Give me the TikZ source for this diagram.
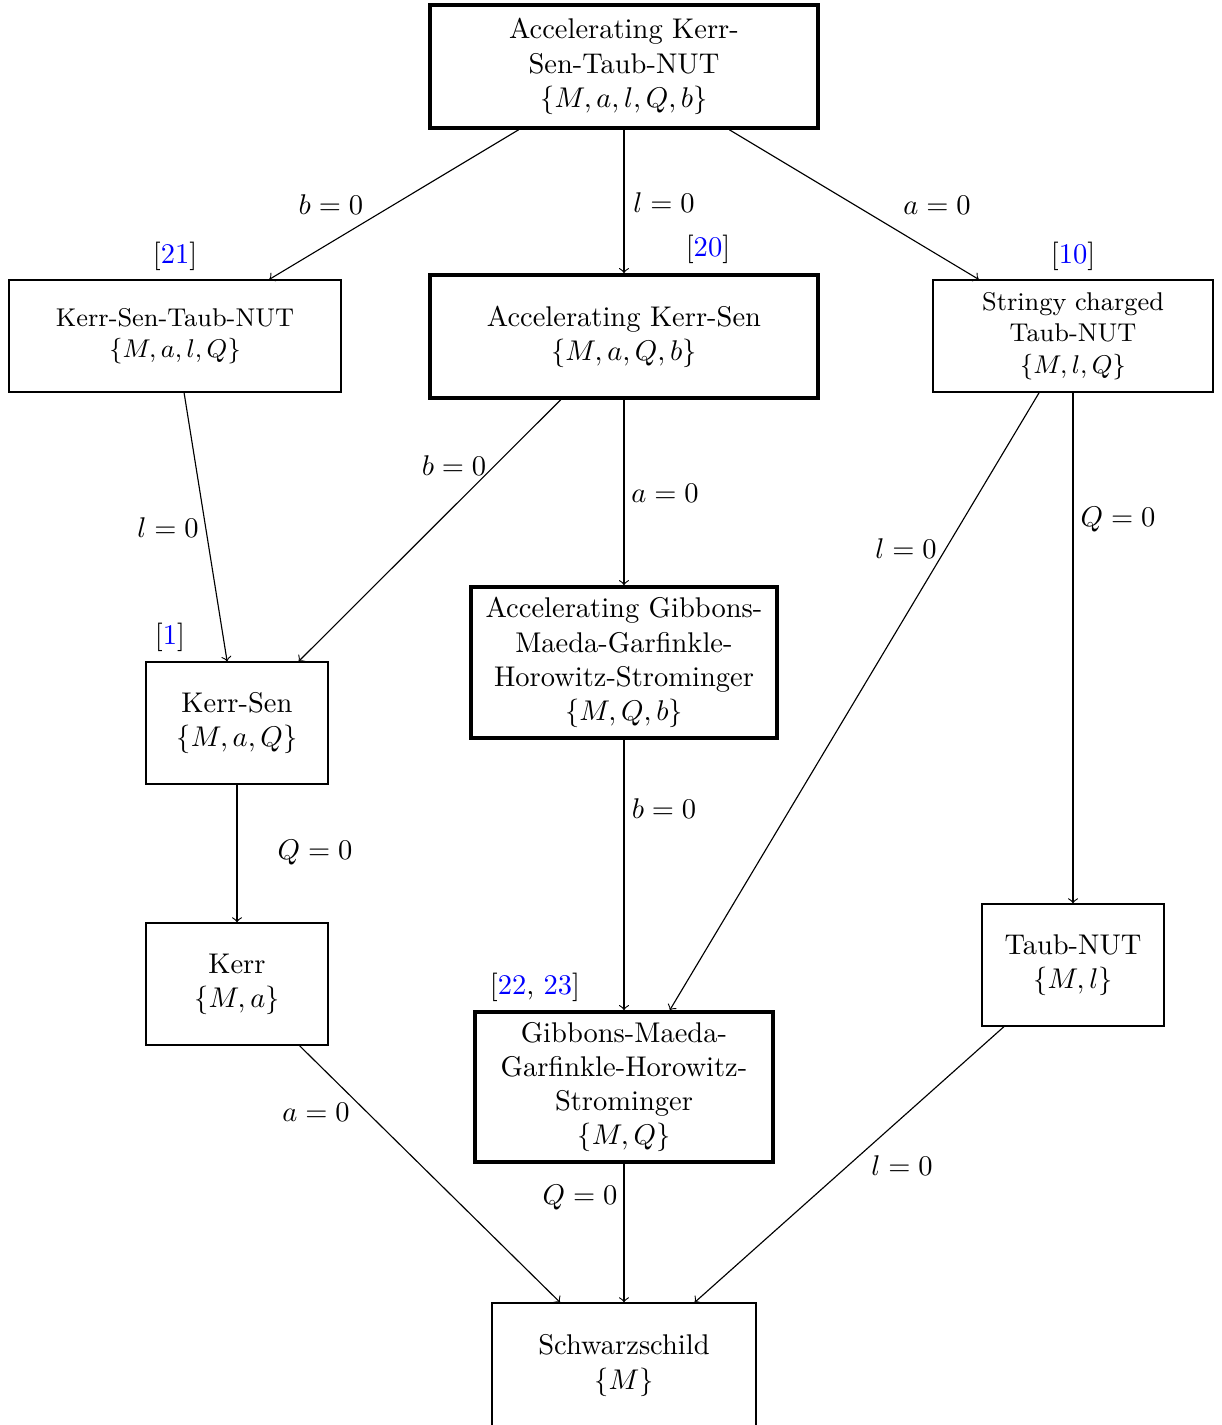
\documentclass[tikz,border=0pt]{standalone}
\usepackage{amssymb,amsmath}
\usepackage{xcolor}
\usepackage{tikz}
\usetikzlibrary{arrows}
\usetikzlibrary{positioning}
\tikzstyle{family}=[draw,rectangle,align=center,inner sep=2pt]
\tikzstyle{main}=[family,very thick]
\tikzstyle{link} = [draw,->]
\newcommand{\refnum}[1]{[\textcolor{blue}{#1}]}

\begin{document}
\begin{tikzpicture}
		[scale=1,auto=left]
		\useasboundingbox (0,0) rectangle (15.056,-17.571);
		% spacetimes
		\node[main][minimum width=4.784cm,minimum height=1.517cm] (a1) at (7.694,-0.820) {Accelerating Kerr-\\Sen-Taub-NUT\\$\{M,a,l,Q,b\}$};
		\node[family][minimum width=4.094cm,minimum height=1.381cm,font=\small] (a2) at (2.158,-4.143) {Kerr-Sen-Taub-NUT\\$\{M,a,l,Q\}$};
		\node[main][minimum width=4.784cm,minimum height=1.517cm] (a3) at (7.694,-4.149) {Accelerating Kerr-Sen\\$\{M,a,Q,b\}$};
		\node[family][minimum width=3.453cm,minimum height=1.381cm,font=\small] (a4) at (13.231,-4.143) {Stringy charged\\Taub-NUT\\$\{M,l,Q\}$};
		\node[family][minimum width=2.244cm,minimum height=1.504cm] (a5) at (2.922,-8.915) {Kerr-Sen\\$\{M,a,Q\}$};
		\node[main][minimum width=3.773cm,minimum height=1.862cm] (a6) at (7.694,-8.169) {Accelerating Gibbons-\\Maeda-Garfinkle-\\Horowitz-Strominger\\$\{M,Q,b\}$};
		\node[family][minimum width=2.244cm,minimum height=1.504cm] (a7) at (2.922,-12.133) {Kerr\\$\{M,a\}$};
		\node[family][minimum width=2.244cm,minimum height=1.504cm] (a8) at (13.231,-11.899) {Taub-NUT\\$\{M,l\}$};
		\node[main][minimum width=3.674cm,minimum height=1.850cm] (a9) at (7.694,-13.403) {Gibbons-Maeda-\\Garfinkle-Horowitz-\\Strominger\\$\{M,Q\}$};
		\node[family][minimum width=3.255cm,minimum height=1.54cm] (a10) at (7.694,-16.837) {Schwarzschild\\$\{M\}$};
		
		% references
		\node (r1) at (2.158,-3.157) {\refnum{21}};
		\node (r2) at (8.730,-3.070) {\refnum{20}};
		\node (r3) at (13.231,-3.157) {\refnum{10}};
		\node (r4) at (2.096,-7.855) {\refnum{1}};
		\node (r5) at (6.597,-12.170) {[\textcolor{blue}{22}, \textcolor{blue}{23}]};
		
		% limits
		\node (l1) at (4.081,-2.528) {$b=0$};
		\node (l2) at (8.188,-2.503) {$l=0$};
		\node (l3) at (11.554,-2.528) {$a=0$};
		\node (l4) at (5.598,-5.746) {$b=0$};
		\node (l5) at (8.200,-6.079) {$a=0$};
		\node (l6) at (2.072,-6.510) {$l=0$};
		\node (l7) at (13.785,-6.400) {$Q=0$};
		\node (l8) at (11.171,-6.770) {$l=0$};
		\node (l9) at (8.188,-9.975) {$b=0$};
		\node (l10) at (3.884,-10.506) {$Q=0$};
		\node (l11) at (3.896,-13.711) {$a=0$};
		\node (l12) at (11.122,-14.377) {$l=0$};
		\node (l13) at (7.152,-14.760) {$Q=0$};
		
		\draw[link] (a1) to (a2);
		\draw[link] (a1) to (a3);
		\draw[link] (a1) to (a4);
		\draw[link] (a2) to (a5);
		\draw[link] (a3) to (a5);
		\draw[link] (a3) to (a6);
		\draw[link] (a4) to (a9);
		\draw[link] (a4) to (a8);
		\draw[link] (a5) to (a7);
		\draw[link] (a6) to (a9);
		\draw[link] (a7) to (a10);
		\draw[link] (a9) to (a10);
		\draw[link] (a8) to (a10);
		
		\end{tikzpicture}
\end{document}
